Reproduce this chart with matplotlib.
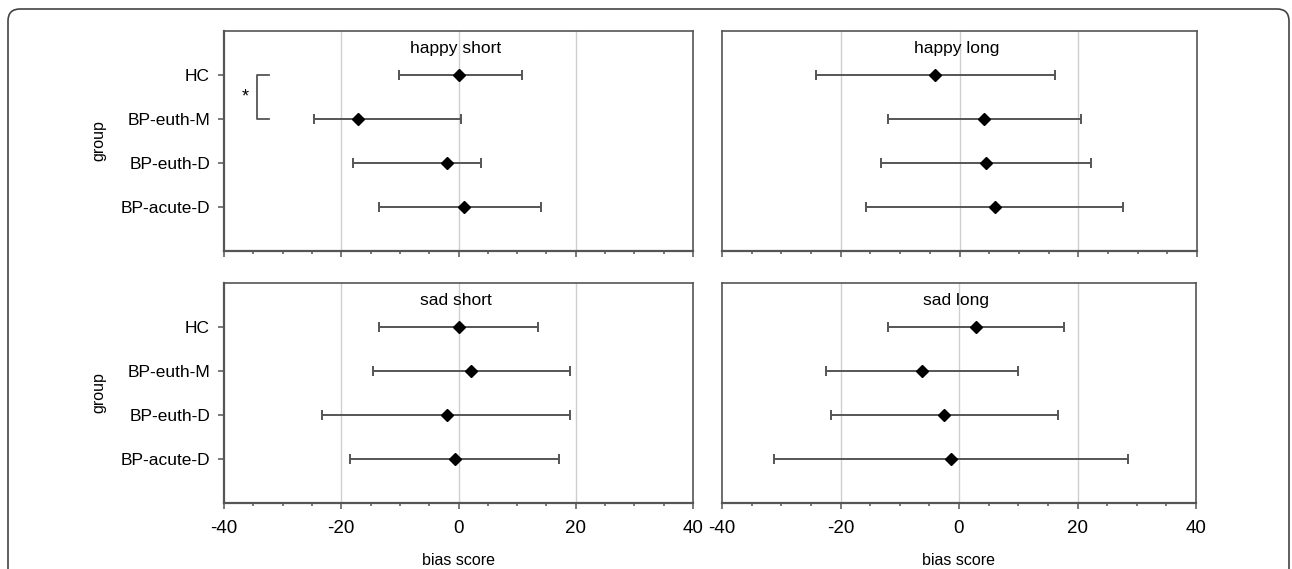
import matplotlib
matplotlib.use('Agg')
import matplotlib.pyplot as plt
from matplotlib.patches import FancyBboxPatch
from matplotlib.transforms import IdentityTransform
from matplotlib.ticker import MultipleLocator

plt.rcParams['font.family'] = ['Liberation Sans', 'DejaVu Sans']
plt.rcParams['axes.unicode_minus'] = False

# data
groups = ['HC', 'BP-euth-M', 'BP-euth-D', 'BP-acute-D']
panel_titles = ['happy short', 'happy long', 'sad short', 'sad long']

happy_short_mean = [0.0, -17.1, -2.0, 1.0]
happy_short_low = [-10.2, -24.6, -18.0, -13.5]
happy_short_high = [10.8, 0.4, 3.8, 14.0]

happy_long_mean = [-4.1, 4.1, 4.4, 6.0]
happy_long_low = [-24.2, -12.1, -13.3, -15.7]
happy_long_high = [16.0, 20.5, 22.2, 27.6]

sad_short_mean = [0.0, 2.2, -2.0, -0.6]
sad_short_low = [-13.5, -14.6, -23.2, -18.5]
sad_short_high = [13.5, 19.1, 19.1, 17.2]

sad_long_mean = [2.9, -6.3, -2.5, -1.3]
sad_long_low = [-11.9, -22.5, -21.6, -31.3]
sad_long_high = [17.7, 9.9, 16.7, 28.6]

x_ticks = [-40, -20, 0, 20, 40]
grid_x = [-20, 0, 20]

panels = [
    (happy_short_mean, happy_short_low, happy_short_high),
    (happy_long_mean, happy_long_low, happy_long_high),
    (sad_short_mean, sad_short_low, sad_short_high),
    (sad_long_mean, sad_long_low, sad_long_high),
]

W, H = 1292, 569
fig = plt.figure(figsize=(W / 100, H / 100), dpi=100)

# rounded frame around the figure
frame = FancyBboxPatch((8, -30), 1281, 569 - 9 + 30,
                       boxstyle='round,pad=0,rounding_size=12',
                       transform=IdentityTransform(), fill=False,
                       edgecolor='#444444', linewidth=1.2)
fig.patches.append(frame)

# axes boxes in pixels: left, right, top, bottom
boxes = [(224, 693, 31, 251), (722, 1197, 31, 251),
         (224, 693, 283, 503), (722, 1196, 283, 503)]

spine_col = '#555555'
bar_col = '#555555'

for i, (mean, low, high) in enumerate(panels):
    l, r, t, b = boxes[i]
    ax = fig.add_axes([l / W, 1 - b / H, (r - l) / W, (b - t) / H])
    ypos = list(range(1, len(groups) + 1))
    xerr = [[m - lo for m, lo in zip(mean, low)],
            [hi - m for m, hi in zip(mean, high)]]
    ax.errorbar(mean, ypos, xerr=xerr, fmt='D', color='black',
                markersize=6, ecolor=bar_col, elinewidth=1.4,
                capsize=3.3, capthick=1.4, zorder=3)
    for gx in grid_x:
        ax.axvline(gx, color='#cfcfcf', linewidth=1.0, zorder=0)
    ax.set_xlim(-40, 40)
    ax.set_ylim(5, 0)
    ax.set_xticks(x_ticks)
    ax.xaxis.set_minor_locator(MultipleLocator(5))
    ax.tick_params(axis='x', which='major', length=4, width=1.1,
                   color=spine_col, labelsize=13.5, pad=8)
    ax.tick_params(axis='x', which='minor', length=2.5, width=1.1,
                   color=spine_col)
    for s in ax.spines.values():
        s.set_color(spine_col)
        s.set_linewidth(1.2)
    ax.spines['bottom'].set_linewidth(1.6)
    if i % 2 == 0:
        ax.spines['left'].set_linewidth(1.6)
        ax.set_yticks(ypos)
        ax.set_yticklabels(groups, fontsize=12.5)
        ax.tick_params(axis='y', length=4, width=1.1, color=spine_col, pad=6)
        ax.set_ylabel('group', fontsize=11.5, labelpad=10)
    else:
        ax.set_yticks([])
    if i < 2:
        ax.set_xticklabels([])
    else:
        ax.set_xlabel('bias score', fontsize=11.5, labelpad=12)
    ax.text(-0.5, 0.4, panel_titles[i], ha='center', va='center',
            fontsize=12.5)

    if i == 0:
        # significance bracket between HC and BP-euth-M
        ax.plot([-32.4, -34.4, -34.4, -32.4], [1, 1, 2, 2],
                color=bar_col, linewidth=1.3, clip_on=False)
        ax.text(-36.4, 1.5, '*', ha='center', va='center', fontsize=13)

fig.savefig('out.png', dpi=100)
